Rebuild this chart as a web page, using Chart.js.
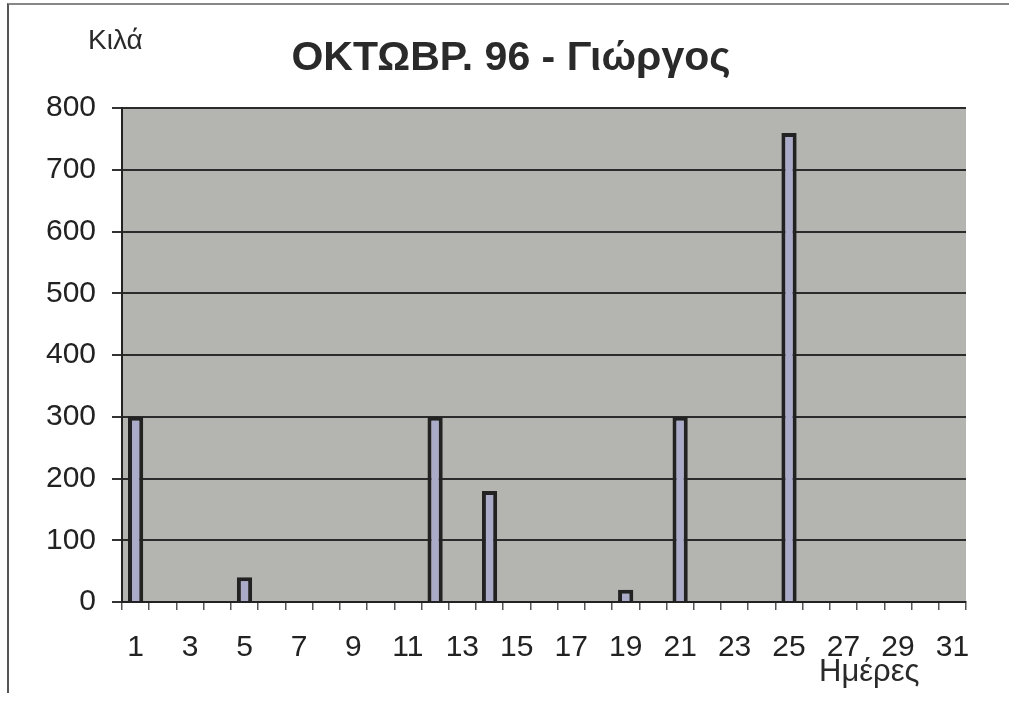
<!DOCTYPE html>
<html>
<head>
<meta charset="utf-8">
<script src="https://cdn.jsdelivr.net/npm/chart.js@4"></script>
<style>
  html, body { margin: 0; padding: 0; background: #fff; }
  #wrap { position: relative; width: 1010px; height: 703px; }
  #frame { position: absolute; left: 7px; top: 3px; width: 1000px; height: 688px;
           border-left: 2px solid #555; border-top: 2px solid #888; }
  canvas { position: absolute; left: 0; top: 0; }
</style>
</head>
<body>
<div id="wrap">
  <div id="frame"></div>
  <canvas id="chart" width="1010" height="703"></canvas>
</div>
<script>
// days of October 1996 and the kilos per day (empty days left null)
const days = [1, 2, 3, 4, 5, 6, 7, 8, 9, 10, 11, 12, 13, 14, 15, 16,
              17, 18, 19, 20, 21, 22, 23, 24, 25, 26, 27, 28, 29, 30, 31];
const kilos = [300, null, null, null, 40, null, null, null, null, null, null, 300, null, 180, null, null,
               null, null, 20, null, 300, null, null, null, 760, null, null, null, null, null, null];

const chartTitle = 'ΟΚΤΩΒΡ. 96 - Γιώργος';
const yLabel = 'Κιλά';
const xLabel = 'Ημέρες';
const yMin = 0, yMax = 800, yStep = 100;

const FONT = "'Liberation Sans', Arial, sans-serif";

// gray plot background + the two loose axis captions
const plotDecor = {
  id: 'plotDecor',
  beforeDraw(chart) {
    const { ctx, chartArea: a } = chart;
    ctx.save();
    ctx.fillStyle = '#b4b4b0';
    ctx.fillRect(a.left, a.top, a.right - a.left, a.bottom - a.top);
    ctx.restore();
  },
  afterDraw(chart) {
    const ctx = chart.ctx;
    ctx.save();
    ctx.fillStyle = '#2a2a2a';
    ctx.textAlign = 'left';
    ctx.textBaseline = 'alphabetic';
    ctx.font = '28px ' + FONT;
    ctx.fillText(yLabel, 88, 49);
    ctx.font = '31px ' + FONT;
    ctx.fillText(xLabel, 819, 681);
    ctx.restore();
  }
};

new Chart(document.getElementById('chart'), {
  type: 'bar',
  data: {
    labels: days,
    datasets: [{
      data: kilos,
      backgroundColor: '#aaaac9',
      borderColor: '#222',
      borderWidth: 4,
      barPercentage: 0.56,
      categoryPercentage: 1
    }]
  },
  options: {
    responsive: false,
    animation: false,
    devicePixelRatio: 1,
    layout: { padding: { left: 12, right: 0, top: 0, bottom: 0 } },
    plugins: {
      legend: { display: false },
      tooltip: { enabled: false },
      title: {
        display: true,
        text: chartTitle,
        color: '#2a2a2a',
        font: { family: FONT, size: 41, weight: 'bold', lineHeight: 1.2 },
        padding: { top: 34, bottom: 25 }
      }
    },
    scales: {
      x: {
        offset: true,
        afterFit: (s) => { s.height = 101; },
        grid: { display: true, offset: true, drawOnChartArea: false, drawTicks: true,
                tickLength: 8, tickColor: '#555', lineWidth: 1.5 },
        border: { display: true, color: '#222', width: 2 },
        ticks: {
          autoSkip: false, maxRotation: 0, minRotation: 0,
          padding: 20, color: '#222',
          font: { family: FONT, size: 30 },
          callback: (v, i) => (i % 2 === 0 ? days[i] : '')
        }
      },
      y: {
        min: yMin, max: yMax,
        afterFit: (s) => { s.width = 110; },
        grid: { color: '#2b2b2b', lineWidth: 2, drawTicks: true, tickLength: 10, tickColor: '#333' },
        border: { display: true, color: '#222', width: 2 },
        ticks: {
          stepSize: yStep, padding: 16, color: '#222',
          font: { family: FONT, size: 30 }
        }
      },
      // empty spacer on the right so the plot stops where the original does
      spacer: {
        type: 'linear',
        position: 'right',
        afterFit: (s) => { s.width = 44; },
        grid: { display: false },
        border: { display: false },
        ticks: { display: false }
      }
    }
  },
  plugins: [plotDecor]
});
</script>
</body>
</html>
